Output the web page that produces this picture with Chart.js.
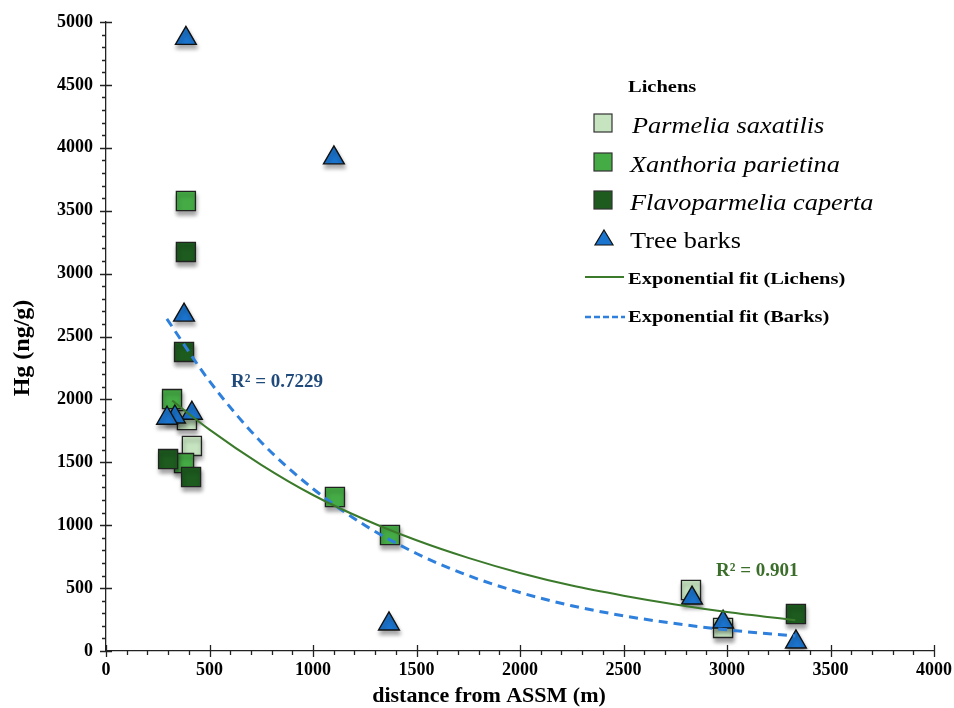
<!DOCTYPE html>
<html>
<head>
<meta charset="utf-8">
<script src="https://cdn.jsdelivr.net/npm/chart.js@4.4.1/dist/chart.umd.min.js"></script>
<style>
  html, body { margin: 0; padding: 0; background: #fff; }
  #wrap { width: 954px; height: 708px; position: relative; }
</style>
</head>
<body>
<div id="wrap"><canvas id="chart"></canvas></div>
<script>
// --- Data (distance in m, Hg in ng/g) ---
const parmeliaX = [391, 415, 2826, 2981];
const parmeliaY = [1836, 1630, 485, 183];

const xanthoriaX = [386, 319, 377, 1106, 1372];
const xanthoriaY = [3577, 2003, 1494, 1224, 922];

const flavoX = [386, 377, 300, 411, 3333];
const flavoY = [3172, 2377, 1526, 1383, 294];

const barksX = [386, 1101, 377, 415, 333, 295, 1367, 2831, 2981, 3333];
const barksY = [4870, 3920, 2670, 1890, 1860, 1850, 215, 421, 230, 72];

// fitted curves
const lichFitX = [320, 500, 750, 1000, 1250, 1500, 1750, 2000, 2250, 2500, 2750, 3000, 3330];
const lichFitY = [1990, 1760, 1480, 1240, 1045, 880, 740, 620, 520, 440, 370, 310, 245];
const barkFitX = [294, 500, 750, 1000, 1250, 1500, 1750, 2000, 2250, 2500, 2750, 3000, 3330];
const barkFitY = [2640, 2145, 1660, 1290, 1000, 775, 600, 465, 360, 280, 218, 168, 120];

const xTicks = [0, 500, 1000, 1500, 2000, 2500, 3000, 3500, 4000];
const yTicks = [0, 500, 1000, 1500, 2000, 2500, 3000, 3500, 4000, 4500, 5000];

const r2Barks = "R\u00b2 = 0.7229";
const r2Lichens = "R\u00b2 = 0.901";

const pts = (xs, ys) => xs.map((x, i) => ({ x, y: ys[i] }));

const SERIF = "'Liberation Serif', 'Times New Roman', serif";
const C = {
  light: "#c6e4c0", mid: "#45ab45", dark: "#1d5b1f", blue: "#1b75cf",
  lichLine: "#3b7a2b", barkLine: "#2f80dc"
};

// --- tick marks (major crossing the axis, minor outside) ---
const tickMarks = {
  id: "tickMarks",
  afterDraw(chart) {
    const { ctx, scales: { x, y }, chartArea: a } = chart;
    ctx.save();
    ctx.strokeStyle = "#222";
    ctx.lineWidth = 1.3;
    ctx.beginPath();
    for (let v = 0; v <= 4000; v += 100) {
      const px = Math.round(x.getPixelForValue(v)) + 0.5;
      const major = v % 500 === 0;
      ctx.moveTo(px, a.bottom - (major ? 6 : 0));
      ctx.lineTo(px, a.bottom + (major ? 6 : 4));
    }
    for (let v = 0; v <= 5000; v += 100) {
      const py = Math.round(y.getPixelForValue(v)) + 0.5;
      const major = v % 500 === 0;
      ctx.moveTo(a.left - (major ? 6 : 4), py);
      ctx.lineTo(a.left + (major ? 6 : 0), py);
    }
    ctx.stroke();
    ctx.restore();
  }
};

// --- marker shadows ---
const shadows = {
  id: "shadows",
  beforeDatasetDraw(chart, args) {
    const ds = chart.data.datasets[args.index];
    chart.ctx.save();
    if (!ds.showLine) {
      chart.ctx.shadowColor = "rgba(0,0,0,0.35)";
      chart.ctx.shadowBlur = 4;
      chart.ctx.shadowOffsetX = 1;
      chart.ctx.shadowOffsetY = 4;
    }
  },
  afterDatasetDraw(chart) {
    chart.ctx.restore();
  }
};

// --- axis titles, R² notes and legend ---
function sText(ctx, txt, x, y, font, color, sx) {
  ctx.save();
  ctx.font = font;
  ctx.fillStyle = color;
  ctx.textBaseline = "alphabetic";
  ctx.translate(x, y);
  ctx.scale(sx, 1);
  ctx.fillText(txt, 0, 0);
  ctx.restore();
}

const annotations = {
  id: "annotations",
  afterDraw(chart) {
    const { ctx } = chart;
    // axis titles
    ctx.save();
    ctx.fillStyle = "#000";
    ctx.font = "bold 22px " + SERIF;
    ctx.textAlign = "center";
    ctx.textBaseline = "middle";
    ctx.fillText("distance from ASSM (m)", 489, 696);
    ctx.translate(23, 348);
    ctx.rotate(-Math.PI / 2);
    ctx.font = "bold 24px " + SERIF;
    ctx.fillText("Hg (ng/g)", 0, 0);
    ctx.restore();

    // R² labels
    ctx.save();
    ctx.font = "bold 19px " + SERIF;
    ctx.textBaseline = "middle";
    ctx.fillStyle = "#1f4a7a";
    ctx.fillText(r2Barks, 231, 382);
    ctx.fillStyle = "#3b6e2a";
    ctx.fillText(r2Lichens, 716, 571);
    ctx.restore();

    // legend
    const sx = 1.17;
    sText(ctx, "Lichens", 628, 92, "bold 17.5px " + SERIF, "#000", sx);
    const sq = [[C.light, 123, "Parmelia saxatilis"], [C.mid, 162, "Xanthoria parietina"], [C.dark, 200, "Flavoparmelia caperta"]];
    sq.forEach(([col, cy, label], i) => {
      ctx.save();
      ctx.fillStyle = col;
      ctx.strokeStyle = "#333";
      ctx.lineWidth = 1.2;
      ctx.fillRect(594, cy - 9, 18, 18);
      ctx.strokeRect(594, cy - 9, 18, 18);
      ctx.restore();
      sText(ctx, label, i === 0 ? 632 : 630, cy + 10, "italic 22.5px " + SERIF, "#000", sx);
    });
    ctx.save();
    ctx.fillStyle = C.blue;
    ctx.strokeStyle = "#111";
    ctx.lineWidth = 1.2;
    ctx.beginPath();
    ctx.moveTo(604, 230);
    ctx.lineTo(613, 245);
    ctx.lineTo(595, 245);
    ctx.closePath();
    ctx.fill();
    ctx.stroke();
    ctx.restore();
    sText(ctx, "Tree barks", 630, 248, "22.5px " + SERIF, "#000", sx);

    ctx.save();
    ctx.lineWidth = 2;
    ctx.strokeStyle = C.lichLine;
    ctx.beginPath();
    ctx.moveTo(585, 277);
    ctx.lineTo(624, 277);
    ctx.stroke();
    ctx.strokeStyle = C.barkLine;
    ctx.lineWidth = 2.5;
    ctx.setLineDash([6, 3]);
    ctx.beginPath();
    ctx.moveTo(585, 317);
    ctx.lineTo(625, 317);
    ctx.stroke();
    ctx.restore();
    sText(ctx, "Exponential fit (Lichens)", 628, 284, "bold 17.5px " + SERIF, "#000", sx);
    sText(ctx, "Exponential fit (Barks)", 628, 322, "bold 17.5px " + SERIF, "#000", sx);
  }
};

const square = (label, data, fill, order) => ({
  label, data, order,
  pointStyle: "rect",
  pointRadius: 13.5,
  pointHoverRadius: 13.5,
  backgroundColor: fill,
  borderColor: "#222",
  borderWidth: 1.3
});

new Chart(document.getElementById("chart"), {
  type: "scatter",
  data: {
    datasets: [
      {
        label: "Exponential fit (Lichens)",
        data: pts(lichFitX, lichFitY),
        showLine: true, order: 0,
        borderColor: C.lichLine, borderWidth: 2,
        pointRadius: 0, cubicInterpolationMode: "monotone"
      },
      {
        label: "Exponential fit (Barks)",
        data: pts(barkFitX, barkFitY),
        showLine: true, order: 0,
        borderColor: C.barkLine, borderWidth: 3, borderDash: [9, 6],
        pointRadius: 0, cubicInterpolationMode: "monotone"
      },
      {
        label: "Tree barks",
        data: pts(barksX, barksY),
        order: 1,
        pointStyle: "triangle",
        pointRadius: 12,
        pointHoverRadius: 12,
        backgroundColor: C.blue,
        borderColor: "#111",
        borderWidth: 1.4
      },
      square("Flavoparmelia caperta", pts(flavoX, flavoY), C.dark, 2),
      square("Xanthoria parietina", pts(xanthoriaX, xanthoriaY), C.mid, 3),
      square("Parmelia saxatilis", pts(parmeliaX, parmeliaY), C.light, 4)
    ]
  },
  options: {
    responsive: true,
    maintainAspectRatio: false,
    animation: false,
    layout: { padding: { left: 0, top: 22, right: 20, bottom: 0 } },
    plugins: {
      legend: { display: false },
      tooltip: { enabled: false }
    },
    scales: {
      x: {
        type: "linear", min: 0, max: 4000,
        afterFit: s => { s.height = 57; s.paddingLeft = 0; s.paddingRight = 0; },
        afterBuildTicks: s => { s.ticks = xTicks.map(v => ({ value: v })); },
        ticks: {
          color: "#000", padding: 9,
          callback: v => String(v),
          font: { family: SERIF, size: 18, weight: "bold" }
        },
        grid: { display: true, drawOnChartArea: false, drawTicks: false },
        border: { display: true, color: "#222", width: 1.3 }
      },
      y: {
        type: "linear", min: 0, max: 5000,
        afterFit: s => { s.width = 106; s.paddingTop = 0; s.paddingBottom = 0; },
        afterBuildTicks: s => { s.ticks = yTicks.map(v => ({ value: v })); },
        ticks: {
          color: "#000", padding: 13,
          callback: v => String(v),
          font: { family: SERIF, size: 18, weight: "bold" }
        },
        grid: { display: true, drawOnChartArea: false, drawTicks: false },
        border: { display: true, color: "#222", width: 1.3 }
      }
    }
  },
  plugins: [shadows, tickMarks, annotations]
});
</script>
</body>
</html>
